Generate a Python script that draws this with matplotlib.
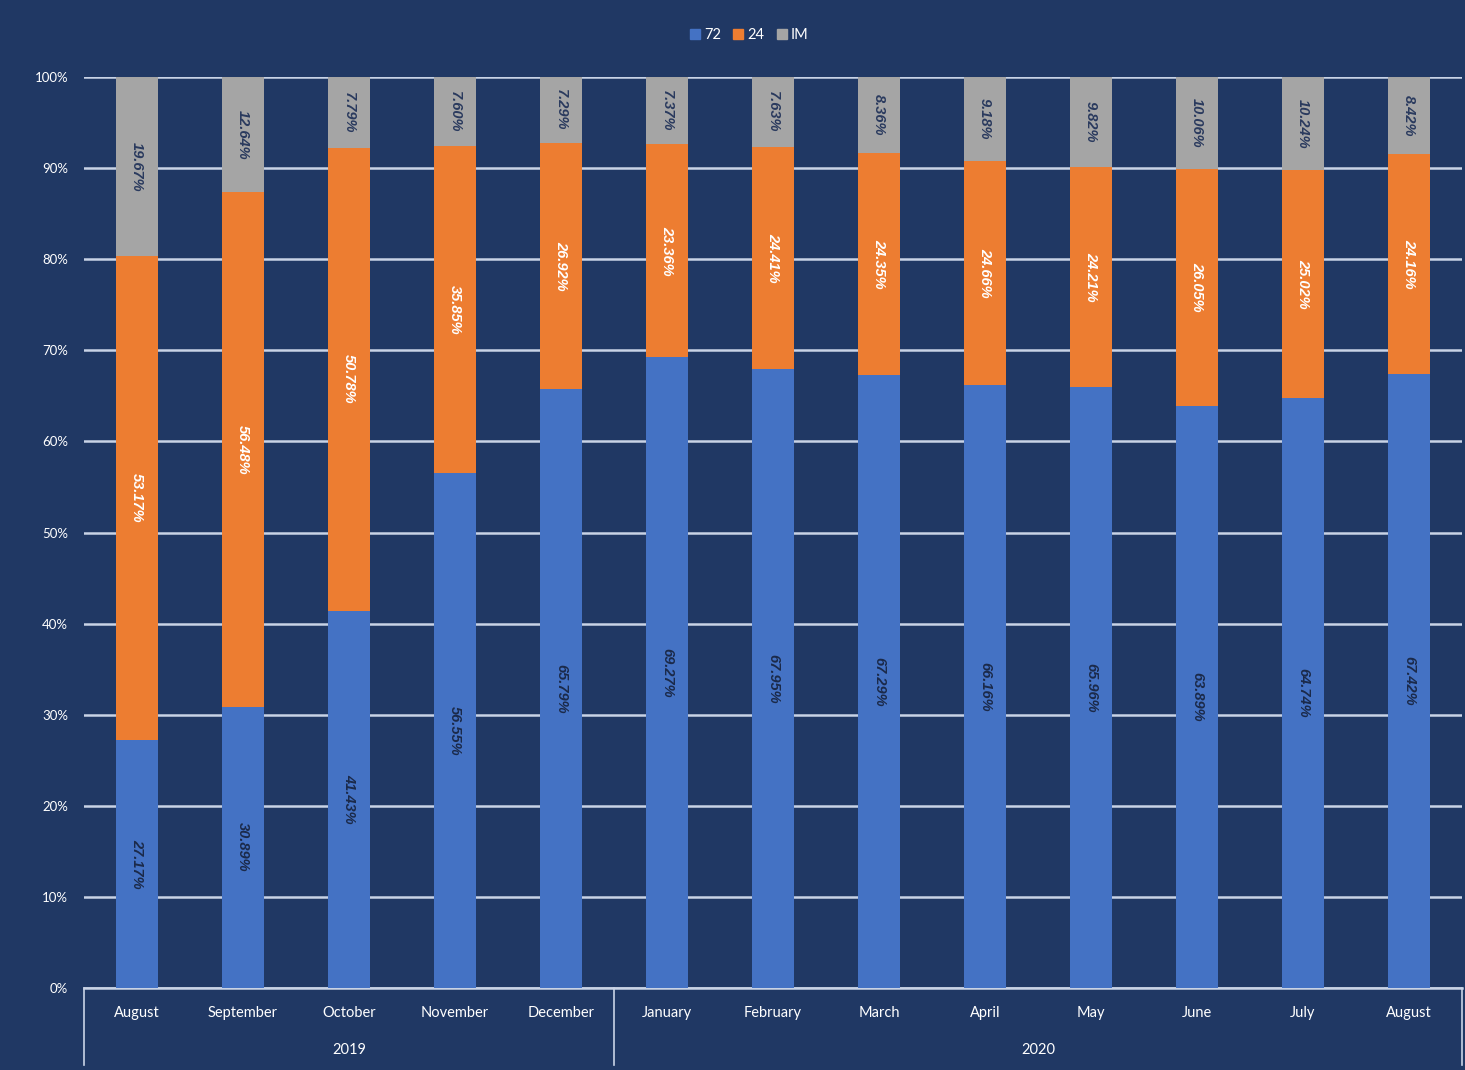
import numpy as np
import matplotlib.pyplot as plt
from matplotlib.lines import Line2D
from matplotlib.transforms import blended_transform_factory

# 数据
months = ['August', 'September', 'October', 'November', 'December',
          'January', 'February', 'March', 'April', 'May', 'June', 'July', 'August']
years = ['2019', '2020']
year_spans = [(0, 4), (5, 12)]
s72 = [27.17, 30.89, 41.43, 56.55, 65.79, 69.27, 67.95, 67.29, 66.16, 65.96, 63.89, 64.74, 67.42]
s24 = [53.17, 56.48, 50.78, 35.85, 26.92, 23.36, 24.41, 24.35, 24.66, 24.21, 26.05, 25.02, 24.16]
sIM = [19.67, 12.64, 7.79, 7.60, 7.29, 7.37, 7.63, 8.36, 9.18, 9.82, 10.06, 10.24, 8.42]
series_names = ['72', '24', 'IM']

bg = '#203864'
colors = ['#4472C4', '#ED7D31', '#A5A5A5']
label_colors = ['#1B2A4A', 'white', '#2A3A5E']
grid_c = '#C9D3E6'

plt.rcParams['font.family'] = ['Lato', 'DejaVu Sans']

fig = plt.figure(figsize=(14.65, 10.70), dpi=100, facecolor=bg)
ax = fig.add_axes([84 / 1465, 82 / 1070, 1378 / 1465, 911 / 1070])
ax.set_facecolor(bg)

x = np.arange(len(months))
bottom = np.zeros(len(months))
for vals, c, lc, name in zip([s72, s24, sIM], colors, label_colors, series_names):
    vals = np.array(vals)
    ax.bar(x, vals, 0.4, bottom=bottom, color=c, zorder=3, label=name)
    for xi, b, v in zip(x, bottom, vals):
        ax.text(xi, b + v / 2, f'{v:.2f}%', rotation=270, ha='center', va='center',
                fontsize=10.5, fontweight='bold', fontstyle='italic', color=lc, zorder=4,
                family=['Liberation Sans Narrow', 'Liberation Sans'])
    bottom = bottom + vals

ax.set_xlim(-0.5, len(months) - 0.5)
ax.set_ylim(0, 100)
ax.set_yticks(np.arange(0, 101, 10))
ax.set_yticklabels([f'{t}%' for t in range(0, 101, 10)])
ax.tick_params(axis='y', length=0, pad=11.5, labelsize=9.5, labelcolor='white')
ax.set_xticks([])
for sp in ax.spines.values():
    sp.set_visible(False)
ax.yaxis.grid(True, color=grid_c, linewidth=1.8, zorder=0)
ax.set_axisbelow(True)

# 分类轴（月份 + 年份）
tr = blended_transform_factory(ax.transData, ax.transAxes)
ax.plot([-0.5, len(months) - 0.5], [0, 0], color=grid_c, lw=1.8, transform=tr, clip_on=False)
for xv in [-0.5, 4.5, len(months) - 0.5]:
    ax.plot([xv, xv], [0, -0.085], color=grid_c, lw=1.2, transform=tr, clip_on=False)
for xi, m in zip(x, months):
    ax.text(xi, -0.0274, m, ha='center', va='center', fontsize=10.5, color='white', transform=tr)
for yr, (a, b) in zip(years, year_spans):
    ax.text((a + b) / 2, -0.068, yr, ha='center', va='center', fontsize=10.5, color='white', transform=tr)

# 图例
handles = [Line2D([], [], marker='s', ls='', color=c, markersize=7) for c in colors]
leg = fig.legend(handles, series_names, loc='center', bbox_to_anchor=(0.51, 1 - 35 / 1070),
                 ncol=3, frameon=False, fontsize=10.5, handletextpad=0.0, columnspacing=0.6,
                 handlelength=1.2)
for t in leg.get_texts():
    t.set_color('white')

fig.savefig('out.png', dpi=100, facecolor=bg)
